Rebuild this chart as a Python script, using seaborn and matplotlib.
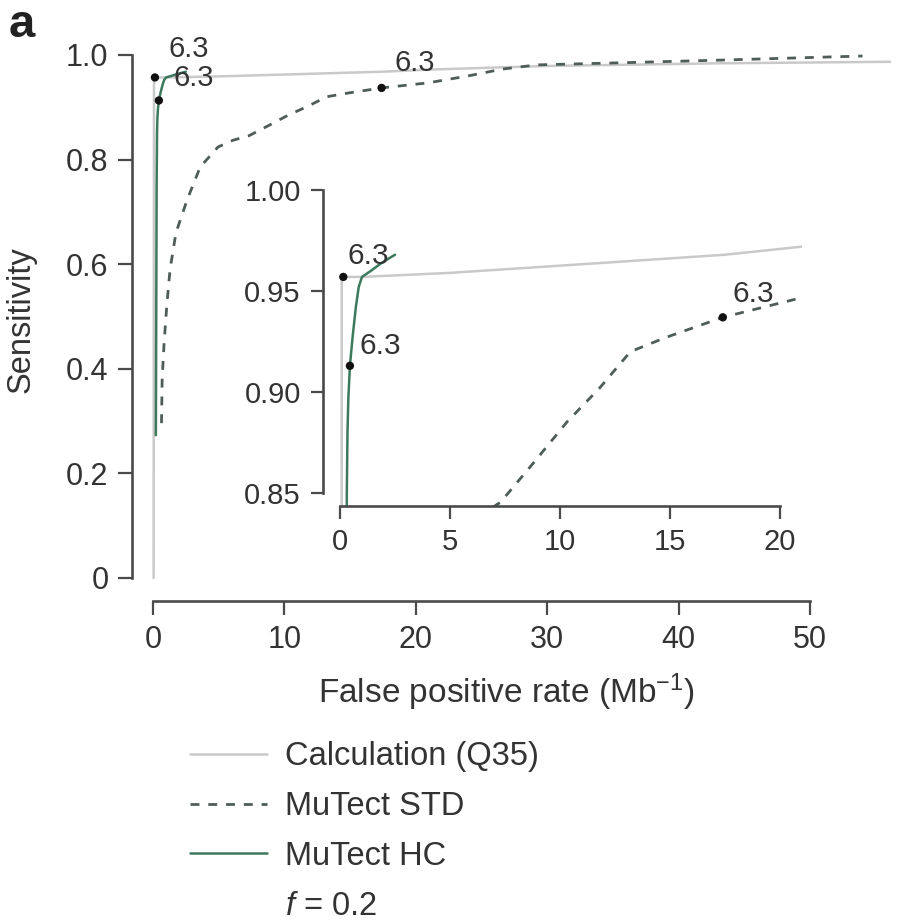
import matplotlib
matplotlib.use("Agg")
import matplotlib.pyplot as plt
import seaborn as sns
from matplotlib.lines import Line2D

# Calculation (Q35)
calc_fpr = [0.05, 0.08, 0.3, 1.0, 5.0, 12.0, 17.5, 21.0, 30.0, 43.0, 56.2]
calc_sens = [0.0, 0.957, 0.957, 0.957, 0.959, 0.964, 0.968, 0.972, 0.979, 0.984, 0.987]

# MuTect HC
hc_fpr = [0.22, 0.25, 0.28, 0.31, 0.34, 0.38, 0.45, 0.58, 0.72, 0.85, 1.0, 1.4, 1.9, 2.5]
hc_sens = [0.273, 0.5, 0.75, 0.85, 0.88, 0.897, 0.913, 0.928, 0.942, 0.952, 0.957, 0.96, 0.964, 0.968]

# MuTect STD
std_fpr = [0.65, 0.7, 0.85, 1.05, 1.3, 1.75, 2.6, 3.6, 4.95, 6.1, 7.3, 8.8, 10.3, 11.8,
           13.2, 14.8, 17.4, 20.9, 24.0, 26.6, 29.2, 35.5, 43.0, 54.0]
std_sens = [0.296, 0.38, 0.45, 0.52, 0.59, 0.66, 0.723, 0.786, 0.824, 0.837, 0.8455, 0.865,
            0.885, 0.902, 0.92, 0.927, 0.937, 0.9465, 0.96, 0.973, 0.981, 0.985, 0.99, 0.998]

# marked points (all at 6.3): calc, HC, STD
dot_fpr = [0.15, 0.45, 17.4]
dot_sens = [0.957, 0.913, 0.937]
dot_labels = ["6.3", "6.3", "6.3"]

main_xticks = [0, 10, 20, 30, 40, 50]
main_yticks = [0, 0.2, 0.4, 0.6, 0.8, 1.0]
main_yticklabels = ["0", "0.2", "0.4", "0.6", "0.8", "1.0"]
inset_xticks = [0, 5, 10, 15, 20]
inset_yticks = [0.85, 0.90, 0.95, 1.00]
inset_yticklabels = ["0.85", "0.90", "0.95", "1.00"]

sns.set_style("ticks")
plt.rcParams['font.family'] = ['Liberation Sans', 'DejaVu Sans']
plt.rcParams['mathtext.fontset'] = 'custom'
plt.rcParams['mathtext.rm'] = 'Liberation Sans'
plt.rcParams['mathtext.it'] = 'Liberation Sans:italic'

TXT = '#333333'
SPINE = '#4a4a4a'
GRAY = '#c9c9c9'
GREEN = '#3b7a5c'
DASH = '#4f5d58'
LAB_FS = 23.5

W, H = 897, 922
fig = plt.figure(figsize=(W / 100, H / 100), dpi=100)


def px_axes(left, right, top, bottom):
    return [left / W, 1 - bottom / H, (right - left) / W, (bottom - top) / H]


def draw(ax, offsets, fs):
    sns.lineplot(x=calc_fpr, y=calc_sens, sort=False, estimator=None, ax=ax,
                 color=GRAY, linewidth=1.8)
    sns.lineplot(x=std_fpr, y=std_sens, sort=False, estimator=None, ax=ax,
                 color=DASH, linewidth=2.0, linestyle=(0, (3.2, 3.2)))
    sns.lineplot(x=hc_fpr, y=hc_sens, sort=False, estimator=None, ax=ax,
                 color=GREEN, linewidth=1.8)
    sns.scatterplot(x=dot_fpr, y=dot_sens, ax=ax, color='#111111', s=36,
                    edgecolor='none', zorder=5)
    for x, y, t, off in zip(dot_fpr, dot_sens, dot_labels, offsets):
        ax.annotate(t, (x, y), xytext=off, textcoords='offset points',
                    ha='left', va='center', fontsize=fs, color=TXT, zorder=6)


def style(ax, xt, yt, ytl, xoff, yoff, tl, fs):
    sns.despine(ax=ax)
    ax.spines['left'].set_position(('outward', xoff))
    ax.spines['bottom'].set_position(('outward', yoff))
    ax.spines['left'].set_bounds(yt[0], yt[-1])
    ax.spines['bottom'].set_bounds(xt[0], xt[-1])
    for s in ('left', 'bottom'):
        ax.spines[s].set_linewidth(1.9)
        ax.spines[s].set_color(SPINE)
    ax.set_xticks(xt)
    ax.set_yticks(yt)
    ax.set_yticklabels(ytl)
    ax.tick_params(length=tl, width=1.6, color=SPINE, labelsize=fs,
                   labelcolor=TXT, pad=7)
    ax.set_facecolor('none')


# main panel
ax = fig.add_axes(px_axes(147.7, 891.4, 44.5, 583.2))
draw(ax, [(9.5, 20.5), (10.5, 16), (9.5, 18)], 21)
ax.set_xlim(-0.4, 56.2)
ax.set_ylim(-0.01, 1.02)
style(ax, main_xticks, main_yticks, main_yticklabels, 11.3, 12.8, 10, 22)
ax.set_xlabel("False positive rate (Mb$^{-1}$)", fontsize=24, color=TXT)
ax.xaxis.set_label_coords(0.482, -0.163)
ax.set_ylabel("Sensitivity", fontsize=LAB_FS, color=TXT)
ax.yaxis.set_label_coords(-0.15, 0.4886)

# inset
axi = fig.add_axes(px_axes(333.4, 802.0, 184.0, 506.0))
axi.set_facecolor('white')
draw(axi, [(3, 15), (7, 14), (7, 17)], 21.5)
axi.set_xlim(-0.3, 21.0)
axi.set_ylim(0.8436, 1.003)
style(axi, inset_xticks, inset_yticks, inset_yticklabels, 7.5, 0, 9, 21)

# legend
handles = [Line2D([], [], color=GRAY, lw=1.8),
           Line2D([], [], color=DASH, lw=2.0, linestyle=(0, (3.2, 3.2))),
           Line2D([], [], color=GREEN, lw=1.8),
           Line2D([], [], color='none')]
labels = ["Calculation (Q35)", "MuTect STD", "MuTect HC", "$f$ = 0.2"]
leg = fig.legend(handles, labels, loc='upper left', bbox_to_anchor=(190 / W, 1 - 741 / H),
                 frameon=False, fontsize=LAB_FS, handlelength=2.36, handletextpad=0.55,
                 labelspacing=0.58, borderpad=0, borderaxespad=0)
for t in leg.get_texts():
    t.set_color(TXT)

fig.text(9 / W, 1 - 37 / H, "a", fontsize=34, fontweight='bold', va='baseline',
         color='#222222')

fig.savefig("out.png", dpi=100)
